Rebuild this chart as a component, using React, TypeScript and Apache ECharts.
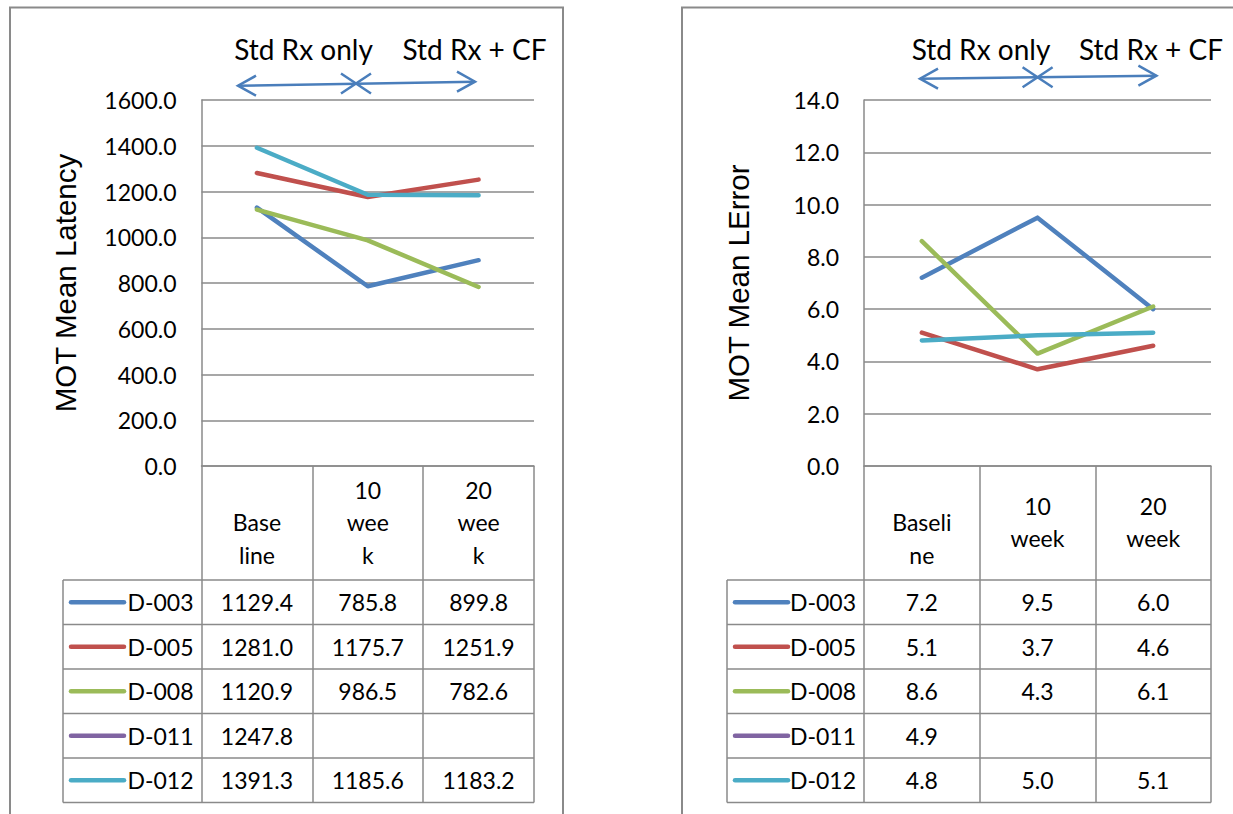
import React, { useEffect, useRef } from 'react';
import * as echarts from 'echarts';

// subjects and their line colours (Excel 2007 defaults)
const subjects = ['D-003', 'D-005', 'D-008', 'D-011', 'D-012'];
const subjectColors = ['#4F81BD', '#C0504D', '#9BBB59', '#8064A2', '#4BACC6'];

// category labels as wrapped in the data-table header
const latencyLabels = ['\nBase\nline', '10\nwee\nk', '20\nwee\nk'];
const errorLabels = ['\nBaseli\nne', '10\nweek', '20\nweek'];

// MOT Mean Latency
const latencyD003 = [1129.4, 785.8, 899.8];
const latencyD005 = [1281.0, 1175.7, 1251.9];
const latencyD008 = [1120.9, 986.5, 782.6];
const latencyD011 = [1247.8, null, null];
const latencyD012 = [1391.3, 1185.6, 1183.2];

// MOT Mean LError
const errorD003 = [7.2, 9.5, 6.0];
const errorD005 = [5.1, 3.7, 4.6];
const errorD008 = [8.6, 4.3, 6.1];
const errorD011 = [4.9, null, null];
const errorD012 = [4.8, 5.0, 5.1];

const latencyValues = [latencyD003, latencyD005, latencyD008, latencyD011, latencyD012];
const errorValues = [errorD003, errorD005, errorD008, errorD011, errorD012];

const phaseLabels = ['Std Rx only', 'Std Rx + CF'];

const FONT = 'Lato, sans-serif';
const GRID_COLOR = '#8a8a8a';
const ARROW_COLOR = '#4A7EBB';

const panels = [
  {
    title: 'MOT Mean Latency',
    max: 1600,
    step: 200,
    labels: latencyLabels,
    values: latencyValues,
    grid: { left: 201.5, top: 100, width: 332.5, height: 366 },
    nameGap: 121,
    legendWidth: 138.5,
    phaseX: [303.5, 474.5],
    arrow: [[238, 85.7], [356, 83.5], [475, 81.7]],
    frame: { x: 10, y: 7.5, width: 553, height: 830 },
  },
  {
    title: 'MOT Mean LError',
    max: 14,
    step: 2,
    labels: errorLabels,
    values: errorValues,
    grid: { left: 864, top: 100, width: 347, height: 366 },
    nameGap: 111,
    legendWidth: 137,
    phaseX: [981, 1151],
    arrow: [[920, 78.7], [1037.6, 77.3], [1156.4, 75.7]],
    frame: { x: 682, y: 7.5, width: 600, height: 830 },
  },
];

const HEADER_H = 114;
const ROW_H = 44.5;

const arrowParts = (pts: number[][]) => {
  const [l, m, r] = pts;
  const style = { stroke: ARROW_COLOR, lineWidth: 2.5, fill: 'none' };
  return [
    { type: 'polyline', shape: { points: [l, r] }, style },
    { type: 'polyline', shape: { points: [[l[0] + 18, l[1] - 10], l, [l[0] + 18, l[1] + 10]] }, style },
    { type: 'polyline', shape: { points: [[m[0] - 15, m[1] - 10], m, [m[0] - 15, m[1] + 10]] }, style },
    { type: 'polyline', shape: { points: [[m[0] + 15, m[1] - 10], m, [m[0] + 15, m[1] + 10]] }, style },
    { type: 'polyline', shape: { points: [[r[0] - 18, r[1] - 10], r, [r[0] - 18, r[1] + 10]] }, style },
  ];
};

const App: React.FC = () => {
  const chartRef = useRef<HTMLDivElement>(null);

  useEffect(() => {
    document.body.style.margin = '0';
    if (!chartRef.current) return;
    const chart = echarts.init(chartRef.current, null, { renderer: 'svg' });

    const option: any = {
      animation: false,
      grid: panels.map(p => ({ ...p.grid })),
      xAxis: panels.map((p, i) => ({
        type: 'category',
        gridIndex: i,
        data: p.labels,
        boundaryGap: true,
        axisLine: { show: true, lineStyle: { color: GRID_COLOR, width: 1.5 } },
        axisTick: { show: true, length: HEADER_H + ROW_H * subjects.length, lineStyle: { color: GRID_COLOR, width: 1.5 } },
        axisLabel: {
          interval: 0,
          margin: 56,
          color: '#000',
          fontFamily: FONT,
          fontSize: 23,
          lineHeight: 32.5,
          verticalAlign: 'middle',
        },
        splitLine: { show: false },
      })),
      yAxis: panels.map((p, i) => ({
        type: 'value',
        gridIndex: i,
        min: 0,
        max: p.max,
        interval: p.step,
        name: p.title,
        nameLocation: 'middle',
        nameGap: p.nameGap,
        nameTextStyle: { fontFamily: 'Liberation Sans, Arial, sans-serif', fontSize: 29.5, color: '#000' },
        axisLine: { show: true, lineStyle: { color: GRID_COLOR, width: 1.5 } },
        axisTick: { show: false },
        axisLabel: {
          margin: 25,
          color: '#000',
          fontFamily: FONT,
          fontSize: 23,
          formatter: (v: number) => v.toFixed(1),
        },
        splitLine: { show: true, lineStyle: { color: GRID_COLOR, width: 1.5 } },
      })),
      series: panels.flatMap((p, i) =>
        subjects.map((s, k) => ({
          name: s,
          type: 'line',
          xAxisIndex: i,
          yAxisIndex: i,
          data: p.values[k],
          showSymbol: false,
          symbol: 'none',
          silent: true,
          lineStyle: { width: 4.5, color: subjectColors[k], cap: 'round', join: 'round' },
        }))
      ),
    };
    chart.setOption(option);

    // data table, frames and phase annotations
    const graphic: any[] = [];
    panels.forEach((p, i) => {
      graphic.push({
        type: 'rect',
        shape: { ...p.frame },
        style: { fill: 'none', stroke: '#8a8a8a', lineWidth: 2 },
      });
      p.phaseX.forEach((x, j) => {
        graphic.push({
          type: 'text',
          x,
          y: 49,
          style: {
            text: phaseLabels[j],
            fontFamily: FONT,
            fontSize: 28,
            fill: '#000',
            align: 'center',
            verticalAlign: 'middle',
          },
        });
      });
      graphic.push(...arrowParts(p.arrow));

      const c0 = chart.convertToPixel({ xAxisIndex: i }, 0) as number;
      const c1 = chart.convertToPixel({ xAxisIndex: i }, 1) as number;
      const cw = c1 - c0;
      const leftEdge = c0 - cw / 2;
      const rightEdge = (chart.convertToPixel({ xAxisIndex: i }, p.labels.length - 1) as number) + cw / 2;
      const zeroY = chart.convertToPixel({ yAxisIndex: i }, 0) as number;
      const top = zeroY + HEADER_H;
      const tableLeft = leftEdge - p.legendWidth;
      const lineStyle = { stroke: GRID_COLOR, lineWidth: 1.5 };

      for (let r = 0; r <= subjects.length; r++) {
        const y = top + r * ROW_H;
        graphic.push({ type: 'line', shape: { x1: tableLeft, y1: y, x2: rightEdge, y2: y }, style: lineStyle });
      }
      graphic.push({
        type: 'line',
        shape: { x1: tableLeft, y1: top, x2: tableLeft, y2: top + ROW_H * subjects.length },
        style: lineStyle,
      });

      subjects.forEach((s, k) => {
        const cy = top + (k + 0.5) * ROW_H;
        graphic.push({
          type: 'line',
          shape: { x1: tableLeft + 8, y1: cy, x2: tableLeft + 61, y2: cy },
          style: { stroke: subjectColors[k], lineWidth: 4.5, lineCap: 'round' },
        });
        graphic.push({
          type: 'text',
          x: leftEdge - 8,
          y: cy,
          style: { text: s, fontFamily: FONT, fontSize: 23, fill: '#000', align: 'right', verticalAlign: 'middle' },
        });
        p.values[k].forEach((v, j) => {
          if (v === null) return;
          graphic.push({
            type: 'text',
            x: chart.convertToPixel({ xAxisIndex: i }, j) as number,
            y: cy,
            style: {
              text: (v as number).toFixed(1),
              fontFamily: FONT,
              fontSize: 23,
              fill: '#000',
              align: 'center',
              verticalAlign: 'middle',
            },
          });
        });
      });
    });
    chart.setOption({ graphic });

    return () => {
      chart.dispose();
    };
  }, []);

  return <div ref={chartRef} style={{ width: '1233px', height: '814px', background: '#fff' }} />;
};

export default App;
